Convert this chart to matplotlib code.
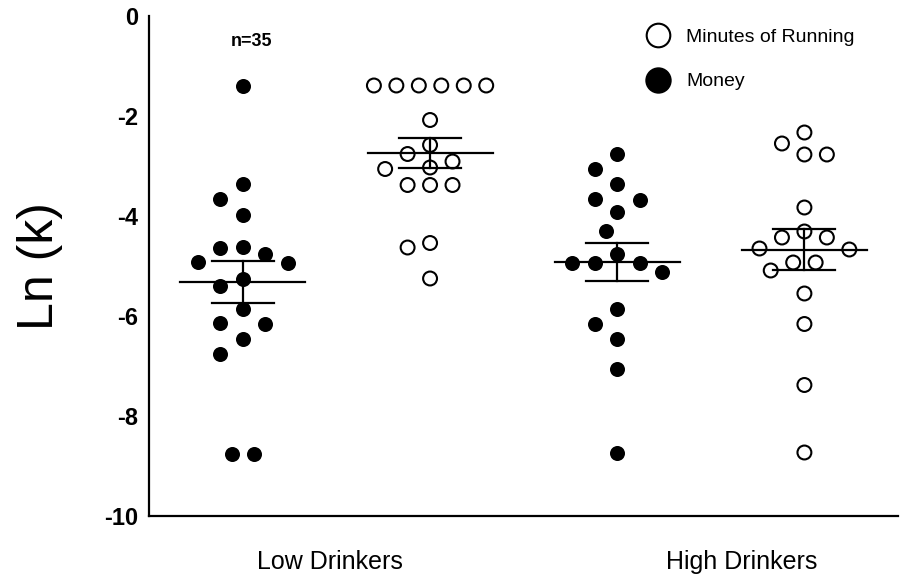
import numpy as np
import matplotlib
matplotlib.use("Agg")
import matplotlib.pyplot as plt
from matplotlib.lines import Line2D

plt.rcParams['font.family'] = ['Liberation Sans', 'DejaVu Sans']

# Ln(k) values
low_money = [-1.39, -3.36, -3.66, -3.98, -4.61, -4.63, -4.76, -4.91, -4.93,
             -5.25, -5.39, -5.85, -6.14, -6.16, -6.45, -6.76, -8.75, -8.75]
low_running = [-1.39, -1.39, -1.39, -1.39, -1.39, -1.39, -2.08, -2.58, -2.76,
               -2.91, -3.03, -3.06, -3.38, -3.38, -3.38, -4.54, -4.63, -5.25]
high_money = [-2.76, -3.06, -3.36, -3.66, -3.68, -3.91, -4.31, -4.77, -4.93,
              -4.93, -4.93, -5.11, -5.85, -6.15, -6.45, -7.05, -8.73]
high_running = [-2.33, -2.55, -2.77, -2.77, -3.83, -4.31, -4.43, -4.43, -4.65,
                -4.67, -4.93, -4.93, -5.09, -5.55, -6.16, -7.38, -8.73]

groups = ["Low Drinkers", "High Drinkers"]
series_labels = ["Minutes of Running", "Money"]
yticks = [0, -2, -4, -6, -8, -10]

W, H = 915, 579
fig = plt.figure(figsize=(W / 100, H / 100), dpi=100)
ax = fig.add_axes([149.3 / W, 63 / H, 748.7 / W, 500 / H])
ax.set_xlim(0.5, 4.5)
ax.set_ylim(-10, 0)

# pixels per data unit, used to keep the dots from piling up
px_x = 748.7 / 4.0
px_y = 500 / 10.0


def fits(off, y, placed, min_px):
    for px, py in placed:
        if np.hypot((off - px) * px_x, (y - py) * px_y) < min_px:
            return False
    return True


def swarm(vals, center, step=0.06, min_px=20.0):
    vals = np.asarray(vals, dtype=float)
    offs = np.full(len(vals), np.nan)
    placed = []
    ks = [0]
    for j in range(1, 8):
        ks += [-j, j]
    for i in np.argsort(-vals, kind="stable"):
        if not np.isnan(offs[i]):
            continue
        y = vals[i]
        ties = np.where(vals == y)[0]
        if len(ties) > 1:
            # try a centred row for identical values first
            row = (np.arange(len(ties)) - (len(ties) - 1) / 2) * 2 * step
            if all(fits(o, y, placed, min_px * 0.8) for o in row):
                for j, o in zip(ties, row):
                    offs[j] = o
                    placed.append((o, y))
                continue
        for k in ks:
            off = k * step
            if fits(off, y, placed, min_px):
                break
        placed.append((off, y))
        offs[i] = off
    return center + offs


data = [low_money, low_running, high_money, high_running]
filled = [True, False, True, False]
for pos, (vals, fill) in enumerate(zip(data, filled), start=1):
    xs = swarm(vals, pos)
    if fill:
        ax.scatter(xs, vals, s=117, color="black", linewidths=0, zorder=2)
    else:
        ax.scatter(xs, vals, s=100, facecolors="none", edgecolors="black",
                   linewidths=1.5, zorder=2)
    m = np.mean(vals)
    sem = np.std(vals, ddof=1) / np.sqrt(len(vals))
    ax.plot([pos - 0.334, pos + 0.334], [m, m], color="black", lw=1.6, zorder=3)
    ax.plot([pos - 0.166, pos + 0.166], [m + sem, m + sem], color="black", lw=1.6, zorder=3)
    ax.plot([pos - 0.166, pos + 0.166], [m - sem, m - sem], color="black", lw=1.6, zorder=3)
    ax.plot([pos, pos], [m - sem, m + sem], color="black", lw=1.6, zorder=3)

for s in ["top", "right"]:
    ax.spines[s].set_visible(False)
for s in ["left", "bottom"]:
    ax.spines[s].set_linewidth(1.6)

ax.set_yticks(yticks)
ax.set_yticklabels([str(t) for t in yticks], fontsize=17, fontweight="bold")
ax.tick_params(axis="y", length=0, pad=8)
ax.set_xticks([])

ax.set_ylabel("Ln (k)", fontsize=36, va="center", ha="center")
ax.yaxis.set_label_coords(-0.146, 0.5)

# group labels under the axis
ax.text(0.5 + (330 - 149.3) / px_x, -10.92, groups[0], fontsize=18,
        ha="center", va="center")
ax.text(0.5 + (742 - 149.3) / px_x, -10.92, groups[1], fontsize=18,
        ha="center", va="center")

ax.text(1.045, -0.52, "n=35", fontsize=13, fontweight="bold", ha="center", va="center")

handles = [
    Line2D([], [], marker="o", ls="none", ms=17, mfc="white", mec="black", mew=1.5),
    Line2D([], [], marker="o", ls="none", ms=19, mfc="black", mec="black", mew=0),
]
leg = fig.legend(handles, series_labels, loc="upper left",
                 bbox_to_anchor=(647 / W, 1 - 28 / H), frameon=False,
                 fontsize=14, handlelength=1.1, handletextpad=0.9,
                 labelspacing=1.4, borderpad=0, borderaxespad=0)

fig.savefig("out.png", dpi=100)
